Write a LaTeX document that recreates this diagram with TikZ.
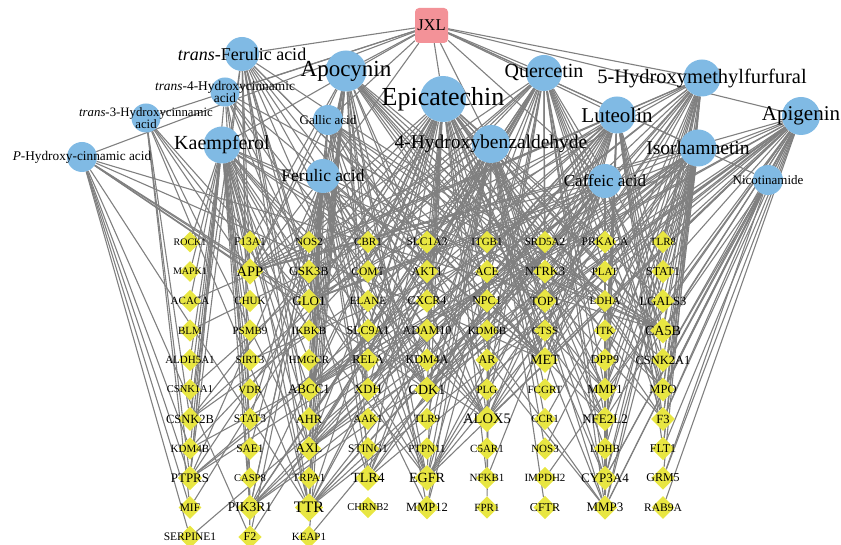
\documentclass[tikz,border=0pt]{standalone}
\usepackage{fontspec}
\setmainfont{Liberation Serif}
\usepackage{tikz}
\usetikzlibrary{shapes.geometric,backgrounds}

\definecolor{jxlred}{RGB}{243,146,152}
\definecolor{cpdblue}{RGB}{128,186,228}
\definecolor{tgtyellow}{RGB}{232,230,66}
\definecolor{edgegray}{RGB}{128,128,128}
\newcommand{\setfs}[1]{\fontsize{#1}{#1}\selectfont}

\begin{document}
\begin{tikzpicture}[
      x=1pt,y=-1pt,
      herb/.style={fill=jxlred,rounded corners=4pt,minimum width=33pt,minimum height=35pt,inner sep=0pt},
      cpd/.style={circle,fill=cpdblue,inner sep=0pt},
      tgt/.style={diamond,fill=tgtyellow,inner sep=0pt},
      txt/.style={inner sep=0pt,align=center,text=black},
      link/.style={draw=edgegray,line width=1.1pt}
    ]
      \useasboundingbox (0,0) rectangle (841,545);

      % herb and compounds
      \node[herb] (jxl) at (431.5,25.5) {};
      \foreach \id/\x/\y/\d in {tfa/242/54/34, apo/346/71/41, t4h/225/92/29, t3h/146/118/29,
          gal/328/120/30, kae/222/145/37, epi/443/99/46, phc/82/157/30, fer/323/176/34,
          hba/491/144/38, que/544/73/36, hmf/702/78/37, lut/617/115/37, api/801/116/38,
          iso/698/148/37, caf/605/181/34, nic/768/180/30}
        \node[cpd,minimum size=\d] (\id) at (\x,\y) {};

      % targets, one column per list
      \foreach \cx/\lst in {
          190/{ROCK1/10,MAPK1/10,ACACA/11,BLM/11,ALDH5A1/11,CSNK1A1/10.5,CSNK2B/12.5,KDM4B/11,PTPRS/13,MIF/11.5,SERPINE1/11.5},
          250/{F13A1/11.5,APP/14.5,CHUK/11,PSMB9/11,SIRT3/11,VDR/11,STAT3/11.5,SAE1/11.5,CASP8/10.5,PIK3R1/13.5,F2/12},
          309/{NOS2/11,GSK3B/12.5,GLO1/13,IKBKB/11,HMGCR/11,ABCC1/13,AHR/12.5,AXL/13,TRPA1/11,TTR/16,KEAP1/11},
          368/{CBR1/11,COMT/11.5,ELANE/11,SLC9A1/12,RELA/12,XDH/12.5,AAK1/11,STING1/11.5,TLR4/14,CHRNB2/10.5},
          427/{SLC1A3/11.5,AKT1/12,CXCR4/12,ADAM10/12,KDM4A/12,CDK1/14,TLR9/11,PTPN11/11,EGFR/14,MMP12/12.5},
          487/{ITGB1/11,ACE/12,NPC1/12,KDM6B/11,AR/12,PLG/11,ALOX5/14.5,C5AR1/11,NFKB1/11,FPR1/11},
          545/{SRD5A2/11,NTRK3/12.5,TOP1/12.5,CTSS/11,MET/14,FCGRT/11,CCR1/11,NOS3/11,IMPDH2/11,CFTR/12},
          605/{PRKACA/11.5,PLAT/11,LDHA/11,ITK/11,DPP9/12,MMP1/12.5,NFE2L2/13,LDHB/11,CYP3A4/13,MMP3/13},
          663/{TLR8/11,STAT1/12,LGALS3/12.5,CA5B/14,CSNK2A1/12.5,MPO/12.5,F3/12.5,FLT1/12,GRM5/12,RAB9A/11.5}}
      {
        \foreach \n/\s [count=\r] in \lst {
          \node[tgt,minimum size={1.2*\s+9}] (\n) at (\cx,{242+(\r-1)*29.5}) {};
          \node[txt,font=\setfs{\s}] at (\n) {\n};
        }
      }

      % labels
      \node[txt,font=\setfs{16.5}] at (jxl) {JXL};
      \node[txt,font=\setfs{18}] at (tfa) {\textit{trans}-Ferulic acid};
      \node[txt,font=\setfs{23}] at (apo) {Apocynin};
      \node[txt,font=\setfs{13.4}] at (t4h) {\textit{trans}-4-Hydroxycinnamic\\[-1pt]acid};
      \node[txt,font=\setfs{12.8}] at (t3h) {\textit{trans}-3-Hydroxycinnamic\\[-1pt]acid};
      \node[txt,font=\setfs{13}] at (gal) {Gallic acid};
      \node[txt,font=\setfs{20}] at (kae) {Kaempferol};
      \node[txt,font=\setfs{26}] at (epi) {Epicatechin};
      \node[txt,font=\setfs{13.3}] at (phc) {\textit{P}-Hydroxy-cinnamic acid};
      \node[txt,font=\setfs{17.5}] at (fer) {Ferulic acid};
      \node[txt,font=\setfs{19.5}] at (hba) {4-Hydroxybenzaldehyde};
      \node[txt,font=\setfs{20}] at (que) {Quercetin};
      \node[txt,font=\setfs{20.5}] at (hmf) {5-Hydroxymethylfurfural};
      \node[txt,font=\setfs{21}] at (lut) {Luteolin};
      \node[txt,font=\setfs{21}] at (api) {Apigenin};
      \node[txt,font=\setfs{19.6}] at (iso) {Isorhamnetin};
      \node[txt,font=\setfs{17}] at (caf) {Caffeic acid};
      \node[txt,font=\setfs{13}] at (nic) {Nicotinamide};

      \begin{scope}[on background layer]
        \foreach \c in {tfa,apo,t4h,t3h,gal,kae,epi,phc,fer,hba,que,hmf,lut,api,iso,caf,nic}
          \draw[link] (jxl) -- (\c);
        \foreach \c/\ts in {
            phc/{SERPINE1,MIF,PTPRS,KDM4B,F2,TTR,APP,GLO1,CDK1,ALOX5,MET,CA5B},
            t3h/{MIF,PTPRS,CSNK2B,APP,TTR,AXL,GLO1,EGFR},
            t4h/{PTPRS,PIK3R1,APP,TTR,CDK1,ALOX5,MET,GLO1,CA5B,MMP12},
            tfa/{APP,GLO1,GSK3B,TTR,PIK3R1,AXL,AHR,CDK1,ALOX5,MET,EGFR,TLR4,CA5B,NFE2L2,MMP3,F2,PTPRS,CSNK2B},
            gal/{APP,GLO1,ABCC1,XDH,CDK1,ALOX5,MET,TOP1,NTRK3,CA5B,MMP1,MMP3,EGFR,AKT1,TTR},
            kae/{ROCK1,MAPK1,ACACA,ALDH5A1,CSNK1A1,CSNK2B,KDM4B,PTPRS,APP,F13A1,CHUK,PSMB9,SIRT3,VDR,STAT3,SAE1,PIK3R1,NOS2,GSK3B,GLO1,IKBKB,HMGCR,ABCC1,AHR,AXL,TTR,CDK1,ALOX5,EGFR,AKT1,CA5B,MET,TOP1},
            apo/{F13A1,APP,GSK3B,GLO1,ABCC1,AHR,AXL,TRPA1,TTR,KEAP1,CBR1,COMT,XDH,TLR4,CDK1,EGFR,MMP12,ALOX5,PLG,MET,NTRK3,TOP1,MMP1,NFE2L2,CA5B,MPO,F3,CSNK2A1,PIK3R1,F2},
            epi/{APP,PIK3R1,TTR,AXL,GLO1,ABCC1,NOS2,CBR1,COMT,ELANE,SLC9A1,RELA,XDH,TLR4,SLC1A3,AKT1,CXCR4,ADAM10,KDM4A,CDK1,EGFR,ITGB1,ACE,NPC1,AR,ALOX5,NFKB1,SRD5A2,MET,TOP1,CTSS,PRKACA,PLAT,LDHA,MMP1,NFE2L2,CYP3A4,MMP3,CA5B,MPO,LGALS3,F3,PTPRS,CSNK2B,MIF},
            fer/{APP,GSK3B,GLO1,IKBKB,HMGCR,ABCC1,AHR,AXL,TTR,PIK3R1,XDH,RELA,SLC9A1,STING1,TLR4,CDK1,KDM4A,EGFR,ALOX5,AR,MET,CA5B,PTPRS,STAT3,SAE1},
            hba/{APP,GLO1,ABCC1,AHR,TTR,XDH,AAK1,TLR4,CDK1,TLR9,PTPN11,EGFR,MMP12,ALOX5,PLG,C5AR1,NFKB1,FPR1,MET,FCGRT,CCR1,NOS3,CFTR,MMP1,NFE2L2,LDHB,CYP3A4,MMP3,CA5B,MPO,PIK3R1,AXL,CSNK2B},
            que/{APP,GSK3B,GLO1,AHR,AXL,TTR,PIK3R1,XDH,RELA,TLR4,AKT1,CDK1,EGFR,MMP12,ALOX5,AR,PLG,MET,NTRK3,TOP1,CTSS,MMP1,NFE2L2,CYP3A4,MMP3,PLAT,CA5B,MPO,F3,STAT1,LGALS3,CSNK2A1,F2,KDM4B,CSNK1A1},
            hmf/{APP,TTR,PIK3R1,GLO1,ABCC1,CDK1,EGFR,ALOX5,MET,NTRK3,TOP1,DPP9,MMP1,NFE2L2,CYP3A4,MMP3,ITK,LDHA,CA5B,MPO,F3,FLT1,GRM5,TLR8,STAT1,PTPRS,ACACA,BLM},
            lut/{APP,GLO1,AXL,TTR,PIK3R1,TLR4,CDK1,EGFR,KDM4A,ADAM10,ALOX5,PLG,KDM6B,MET,TOP1,CTSS,FCGRT,MMP1,NFE2L2,CYP3A4,MMP3,DPP9,CA5B,CSNK2A1,MPO,F3,FLT1,STAT1,LGALS3,ABCC1,CSNK2B,PTPRS},
            api/{APP,GLO1,TTR,PIK3R1,AXL,CDK1,EGFR,TLR4,ALOX5,AR,MET,TOP1,IMPDH2,MMP1,NFE2L2,CYP3A4,MMP3,CA5B,CSNK2A1,MPO,F3,FLT1,GRM5,RAB9A,LGALS3,STAT1,TLR8,ABCC1,SIRT3,KDM4B},
            iso/{APP,GLO1,TTR,PIK3R1,AXL,AHR,CDK1,EGFR,ALOX5,MET,TOP1,CCR1,NOS3,MMP1,NFE2L2,CYP3A4,LDHB,MMP3,CA5B,CSNK2A1,MPO,F3,FLT1,LGALS3,DPP9,ABCC1,PTPRS},
            caf/{APP,GLO1,ABCC1,TTR,AXL,TLR4,XDH,CDK1,EGFR,ALOX5,NFKB1,MET,MMP1,NFE2L2,MMP3,CA5B,MPO,CYP3A4,ITGB1,PRKACA,F3,KEAP1,SERPINE1},
            nic/{CA5B,MPO,CSNK2A1,F3,GRM5,CYP3A4,MMP3}}
        {
          \foreach \t in \ts
            \draw[link] (\c) -- (\t);
        }
      \end{scope}
    \end{tikzpicture}
\end{document}
